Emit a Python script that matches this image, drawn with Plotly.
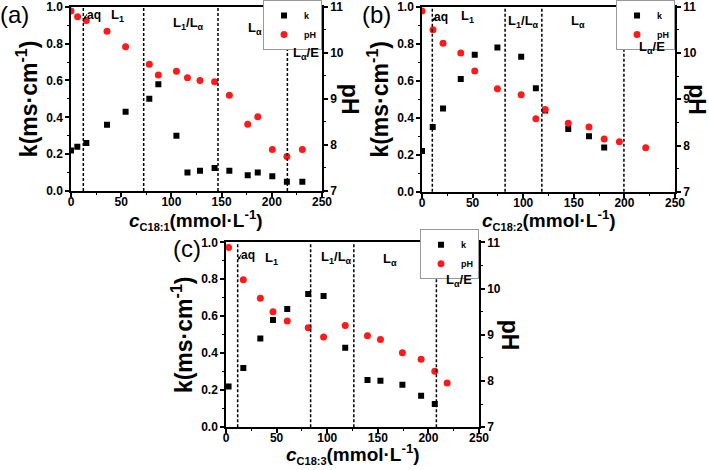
import plotly.graph_objects as go

# ---------------- data ----------------
# (a) C18:1
a_x_k = [0, 6.3, 15.3, 35.9, 54.4, 78, 87, 105, 116, 128.5, 143, 157.7, 176, 186, 200.5, 215, 230.4]
a_k = [0.22, 0.24, 0.26, 0.36, 0.43, 0.50, 0.58, 0.30, 0.10, 0.11, 0.125, 0.11, 0.085, 0.10, 0.08, 0.05, 0.05]
a_x_ph = [0, 6.6, 15.3, 35.9, 54.4, 78, 87, 105, 116, 128.5, 143, 157.7, 176, 186, 200.5, 215, 230.4]
a_ph = [10.91, 10.78, 10.70, 10.47, 10.13, 9.75, 9.52, 9.60, 9.46, 9.40, 9.37, 9.08, 8.45, 8.61, 7.90, 7.75, 7.90]
a_bounds = [12.3, 72.4, 146.4, 215.5]

# (b) C18:2
b_x_k = [0, 10.6, 20.8, 38.3, 52.1, 74.5, 98, 112.5, 121.7, 144.5, 165, 180]
b_k = [0.22, 0.35, 0.45, 0.61, 0.74, 0.78, 0.73, 0.56, 0.44, 0.34, 0.30, 0.24]
b_x_ph = [0, 10.9, 20.8, 38.3, 52.1, 74.5, 98, 112.5, 121.7, 144.5, 165, 180, 195, 221]
b_ph = [10.91, 10.50, 10.21, 10.0, 9.61, 9.23, 9.10, 8.58, 8.78, 8.48, 8.40, 8.14, 8.08, 7.95]
b_bounds = [10.2, 82.1, 118.4, 199.5]

# (c) C18:3
c_x_k = [2.5, 17.1, 33.9, 46.4, 60.5, 81.2, 96.4, 117.8, 139.8, 152.6, 174.3, 192.8, 206.3]
c_k = [0.22, 0.32, 0.48, 0.58, 0.64, 0.72, 0.71, 0.43, 0.256, 0.252, 0.23, 0.17, 0.126]
c_x_ph = [2.5, 17.1, 33.9, 46.4, 60.5, 81.2, 96.4, 117.8, 139.8, 152.6, 174.3, 192.8, 206.3, 218.5]
c_ph = [10.89, 10.19, 9.79, 9.50, 9.30, 9.15, 8.95, 9.20, 8.98, 8.90, 8.61, 8.47, 8.21, 7.96]
c_bounds = [11.5, 83.6, 126.3, 207.9]

phase_labels = ["aq", "L<sub>1</sub>", "L<sub>1</sub>/L<sub>α</sub>", "L<sub>α</sub>", "L<sub>α</sub>/E"]
a_label_x = [23, 46, 117, 183.6, 234]
a_label_y = [0.955, 0.955, 0.91, 0.88, 0.747]
b_label_x = [19, 44.5, 100.6, 154, 227]
b_label_y = [0.946, 0.946, 0.92, 0.92, 0.78]
c_label_x = [21.4, 44.7, 109.5, 162, 230.6]
c_label_y = [0.93, 0.91, 0.92, 0.905, 0.796]

x_subs = ["C18:1", "C18:2", "C18:3"]
x_title_tpl = "<i>c</i><sub><span style='font-size:11px'>{}</span></sub>(mmol·L<sup>-1</sup>)"
panel_names = ["(a)", "(b)", "(c)"]

FONT = "Liberation Sans, Arial, sans-serif"
W, H = 709, 470

# ---------------- figure ----------------
fig = go.Figure()

panels = [
    dict(xa="x", ya="y", ya2="y2", xk=a_x_k, k=a_k, xph=a_x_ph, ph=a_ph, bounds=a_bounds,
         lx=a_label_x, ly=a_label_y, legend="legend",
         xdom=[0.1001, 0.4542], ydom=[0.5936, 0.9857],
         ph_off=28, xt_y=220, lab=(15, 15), leg_up=7),
    dict(xa="x2", ya="y3", ya2="y4", xk=b_x_k, k=b_k, xph=b_x_ph, ph=b_ph, bounds=b_bounds,
         lx=b_label_x, ly=b_label_y, legend="legend2",
         xdom=[0.5952, 0.9521], ydom=[0.5919, 0.9857],
         ph_off=22, xt_y=220, lab=(377, 15), leg_up=7),
    dict(xa="x3", ya="y5", ya2="y6", xk=c_x_k, k=c_k, xph=c_x_ph, ph=c_ph, bounds=c_bounds,
         lx=c_label_x, ly=c_label_y, legend="legend3",
         xdom=[0.3188, 0.6756], ydom=[0.0909, 0.4845],
         ph_off=31, xt_y=454, lab=(187, 248), leg_up=13),
]

shapes = []
annotations = []
layout = {}

def axname(ref, kind):
    n = ref[1:]
    return (("xaxis" if kind == "x" else "yaxis") + n)

tick_font = dict(family=FONT, size=12, color="black", weight="bold")

for i, p in enumerate(panels):
    fig.add_trace(go.Scatter(x=p["xk"], y=p["k"], mode="markers", name="k",
                             marker=dict(symbol="square", size=6, color="black"),
                             xaxis=p["xa"], yaxis=p["ya"], legend=p["legend"]))
    fig.add_trace(go.Scatter(x=p["xph"], y=p["ph"], mode="markers", name="pH",
                             marker=dict(symbol="circle", size=7, color="#ff1a1a"),
                             xaxis=p["xa"], yaxis=p["ya2"], legend=p["legend"]))

    common = dict(showline=True, linecolor="black", linewidth=1.5, ticks="outside",
                  ticklen=4, tickwidth=1.5, tickcolor="black", showgrid=False,
                  zeroline=False, tickfont=tick_font, automargin=False,
                  ticklabeloverflow="allow")
    minor = dict(ticks="outside", ticklen=2, tickwidth=1.2, tickcolor="black")
    layout[axname(p["xa"], "x")] = dict(
        domain=p["xdom"], anchor=p["ya"], range=[0, 250], dtick=50, tick0=0,
        mirror=True, ticklabelstandoff=-5,
        minor=dict(dtick=25, **minor),
        **common)
    layout[axname(p["ya"], "y")] = dict(
        domain=p["ydom"], anchor=p["xa"], range=[0, 1.0001], tick0=0, dtick=0.2,
        tickformat=".1f",
        minor=dict(dtick=0.1, **minor),
        title=dict(text="k(ms·cm<sup>-1</sup>)", standoff=2,
                   font=dict(family=FONT, size=23, color="black", weight="bold")),
        **common)
    layout[axname(p["ya2"], "y")] = dict(
        overlaying=p["ya"], anchor=p["xa"], side="right", range=[7, 11.0004], tick0=7,
        dtick=1,
        minor=dict(dtick=0.5, **minor),
        **common)

    for b in p["bounds"]:
        shapes.append(dict(type="line", xref=p["xa"], yref=p["ya"] + " domain",
                           x0=b, x1=b, y0=0, y1=1,
                           line=dict(color="black", width=1.5, dash="3px,2px")))

    for j, (t, lx, ly) in enumerate(zip(phase_labels, p["lx"], p["ly"])):
        annotations.append(dict(text=t, x=lx, y=ly, xref=p["xa"], yref=p["ya"],
                                showarrow=False, xanchor="center", yanchor="middle",
                                font=dict(family=FONT, size=13 if j else 12,
                                          color="black", weight="bold")))
    # small pointer for "aq"
    annotations.append(dict(text="", x=p["bounds"][0] + 0.5, y=p["ly"][0] - 0.025,
                            xref=p["xa"], yref=p["ya"], showarrow=True,
                            ax=4, ay=-7, arrowhead=2, arrowsize=0.6, arrowwidth=1,
                            arrowcolor="black"))

    xd, yd = p["xdom"], p["ydom"]
    # x axis title
    annotations.append(dict(text=x_title_tpl.format(x_subs[i]), xref="paper", yref="paper",
                            x=(xd[0] + xd[1]) / 2, y=1 - p["xt_y"] / H,
                            xanchor="center", yanchor="middle", showarrow=False,
                            font=dict(family=FONT, size=19, color="black", weight="bold")))
    # right axis title (rotated clockwise)
    annotations.append(dict(text="pH", xref="paper", yref="paper",
                            x=xd[1] + p["ph_off"] / W, y=(yd[0] + yd[1]) / 2,
                            xanchor="center", yanchor="middle",
                            textangle=90, showarrow=False,
                            font=dict(family=FONT, size=23, color="black", weight="bold")))
    # panel label
    annotations.append(dict(text=panel_names[i], xref="paper", yref="paper",
                            x=p["lab"][0] / W, y=1 - p["lab"][1] / H,
                            xanchor="center", yanchor="middle", showarrow=False,
                            font=dict(family=FONT, size=24, color="black")))

    layout[p["legend"]] = dict(
        x=xd[1], y=min(1.0, yd[1] + p["leg_up"] / H), xanchor="right", yanchor="top",
        xref="paper", yref="paper", bgcolor="white", bordercolor="#999999",
        borderwidth=1, itemwidth=30, tracegroupgap=0,
        font=dict(family=FONT, size=9, color="black", weight="bold"))

fig.update_layout(
    width=W, height=H,
    margin=dict(l=0, r=0, t=0, b=0, autoexpand=False),
    paper_bgcolor="white", plot_bgcolor="white",
    font=dict(family=FONT, color="black"),
    showlegend=True,
    shapes=shapes, annotations=annotations,
    **layout)

fig.write_html("out.html", config={"displayModeBar": False},
               post_script="document.body.style.margin='0';document.body.style.overflow='hidden';")
